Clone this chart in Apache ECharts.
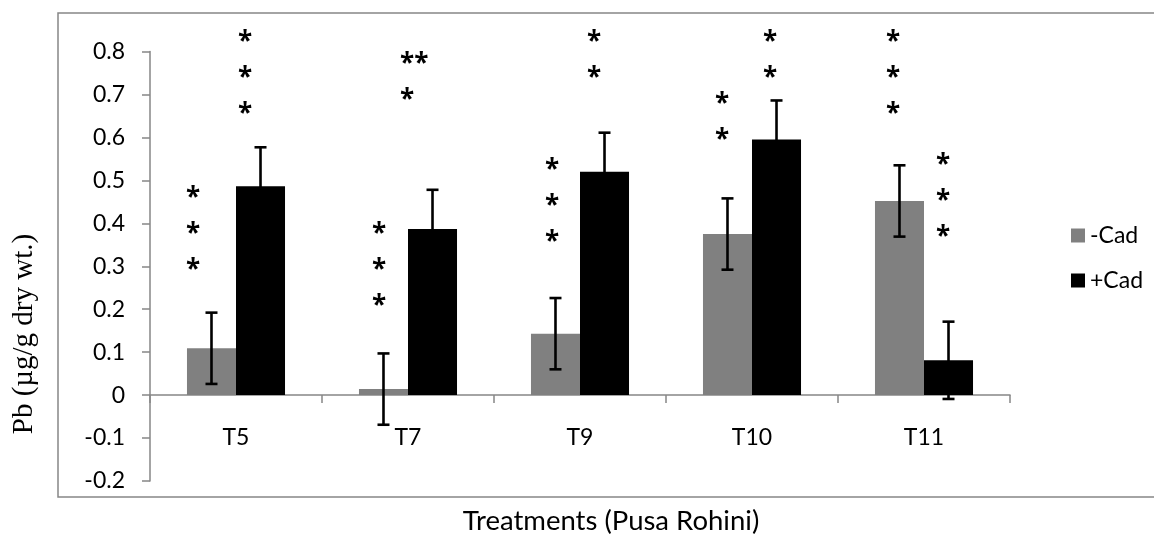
<!DOCTYPE html>
<html>
<head>
<meta charset="utf-8">
<script src="https://cdn.jsdelivr.net/npm/echarts@6/dist/echarts.min.js"></script>
<style>
  html, body { margin: 0; padding: 0; background: #fff; }
  #chart { width: 1154px; height: 536px; }
</style>
</head>
<body>
<div id="chart"></div>
<script>
// Pb content per treatment, without (-Cad) and with (+Cad) cadaverine
const categories = ['T5', 'T7', 'T9', 'T10', 'T11'];
const minusCad = [0.109, 0.014, 0.143, 0.375, 0.452];
const minusCadErr = [0.083, 0.083, 0.083, 0.083, 0.083];
const plusCad = [0.486, 0.387, 0.520, 0.595, 0.081];
const plusCadErr = [0.091, 0.091, 0.091, 0.091, 0.090];

// value axis range
const yMin = -0.2;
const yMax = 0.8;
const yStep = 0.1;

// significance marks and the level (axis units) each column of marks is centred on
const minusCadStars = ['*\n*\n*', '*\n*\n*', '*\n*\n*', '*\n*', '*\n*\n*'];
const minusCadStarLevel = [0.387, 0.303, 0.452, 0.649, 0.752];
const plusCadStars = ['*\n*\n*', '**\n*', '*\n*', '*\n*', '*\n*\n*'];
const plusCadStarLevel = [0.751, 0.742, 0.793, 0.793, 0.464];

// layout: horizontal shift (px) of each mark column from the category centre
const minusStarShift = [-43, -29, -28, -30, -31];
const plusStarShift = [9, -8, 14, 18, 19];
const plusStarAlign = ['center', 'left', 'center', 'center', 'center'];

const SANS = 'Lato, "Open Sans", sans-serif';
const STAR_FONT = '"Open Sans", sans-serif';
const BAR_GAP = 0.43;

const chart = echarts.init(document.getElementById('chart'), null, { renderer: 'canvas' });

function barCentre(api, idx, which) {
  const c = api.coord([idx, 0])[0];
  const band = api.size([1, 0])[0];
  const w = band * (1 - BAR_GAP) / 2;
  return which === 0 ? c - w / 2 : c + w / 2;
}

function errorRender(which) {
  return function (params, api) {
    const idx = api.value(0);
    const v = api.value(1);
    const e = api.value(2);
    const x = barCentre(api, idx, which);
    const yt = api.coord([idx, v + e])[1];
    const yb = api.coord([idx, v - e])[1];
    const cap = 6;
    const st = { stroke: '#000', lineWidth: 2.6 };
    return {
      type: 'group',
      children: [
        { type: 'line', shape: { x1: x, y1: yt, x2: x, y2: yb }, style: st },
        { type: 'line', shape: { x1: x - cap, y1: yt, x2: x + cap, y2: yt }, style: st },
        { type: 'line', shape: { x1: x - cap, y1: yb, x2: x + cap, y2: yb }, style: st }
      ]
    };
  };
}

function starRender(texts, shifts, aligns) {
  return function (params, api) {
    const idx = api.value(0);
    const p = api.coord([idx, api.value(1)]);
    return {
      type: 'text',
      x: p[0] + shifts[idx],
      y: p[1] + 6,
      style: {
        text: texts[idx],
        fill: '#000',
        fontSize: 26,
        fontWeight: 'bold',
        fontFamily: STAR_FONT,
        align: aligns ? aligns[idx] : 'center',
        verticalAlign: 'middle',
        lineHeight: 36
      }
    };
  };
}

const option = {
  animation: false,
  backgroundColor: '#fff',
  grid: { left: 150, right: 144, top: 51.5, bottom: 55, containLabel: false },
  legend: {
    orient: 'vertical',
    left: 1066,
    top: 219,
    itemWidth: 14,
    itemHeight: 14,
    itemGap: 22,
    icon: 'rect',
    data: ['-Cad', '+Cad'],
    textStyle: { fontSize: 23, fontFamily: SANS, color: '#000' }
  },
  xAxis: {
    type: 'category',
    data: categories,
    axisLine: { onZero: true, lineStyle: { color: '#868686', width: 1.5 } },
    axisTick: { show: true, length: 8, lineStyle: { color: '#868686', width: 1.5 } },
    axisLabel: { margin: -55, fontSize: 23, fontFamily: SANS, color: '#000' },
    splitLine: { show: false }
  },
  yAxis: {
    type: 'value',
    min: yMin,
    max: yMax,
    interval: yStep,
    axisLine: { show: true, lineStyle: { color: '#868686', width: 1.5 } },
    axisTick: { show: true, length: 8, lineStyle: { color: '#868686', width: 1.5 } },
    axisLabel: {
      margin: 25, fontSize: 23, fontFamily: SANS, color: '#000',
      formatter: v => String(Math.round(v * 10) / 10)
    },
    splitLine: { show: false }
  },
  series: [
    {
      name: '-Cad', type: 'bar', data: minusCad,
      barGap: '0%', barCategoryGap: (BAR_GAP * 100) + '%',
      itemStyle: { color: '#808080' }
    },
    {
      name: '+Cad', type: 'bar', data: plusCad,
      barGap: '0%', barCategoryGap: (BAR_GAP * 100) + '%',
      itemStyle: { color: '#000000' }
    },
    {
      type: 'custom', z: 5, renderItem: errorRender(0),
      data: minusCad.map((v, i) => [i, v, minusCadErr[i]])
    },
    {
      type: 'custom', z: 5, renderItem: errorRender(1),
      data: plusCad.map((v, i) => [i, v, plusCadErr[i]])
    },
    {
      type: 'custom', z: 6, renderItem: starRender(minusCadStars, minusStarShift, null),
      data: minusCadStarLevel.map((v, i) => [i, v])
    },
    {
      type: 'custom', z: 6, renderItem: starRender(plusCadStars, plusStarShift, plusStarAlign),
      data: plusCadStarLevel.map((v, i) => [i, v])
    }
  ],
  graphic: [
    {
      type: 'rect', silent: true, z: 0,
      shape: { x: 58, y: 13, width: 1120, height: 484 },
      style: { fill: 'none', stroke: '#868686', lineWidth: 1.5 }
    },
    {
      type: 'text', silent: true,
      x: 611, y: 521,
      style: {
        text: 'Treatments (Pusa Rohini)', fill: '#000',
        fontSize: 27.5, fontFamily: SANS, align: 'center', verticalAlign: 'middle'
      }
    },
    {
      type: 'text', silent: true,
      x: 24, y: 334, rotation: Math.PI / 2,
      style: {
        text: 'Pb (µg/g dry wt.)', fill: '#000',
        fontSize: 29, fontFamily: '"Liberation Serif", "Times New Roman", serif',
        align: 'center', verticalAlign: 'middle'
      }
    }
  ]
};

chart.setOption(option);
</script>
</body>
</html>
